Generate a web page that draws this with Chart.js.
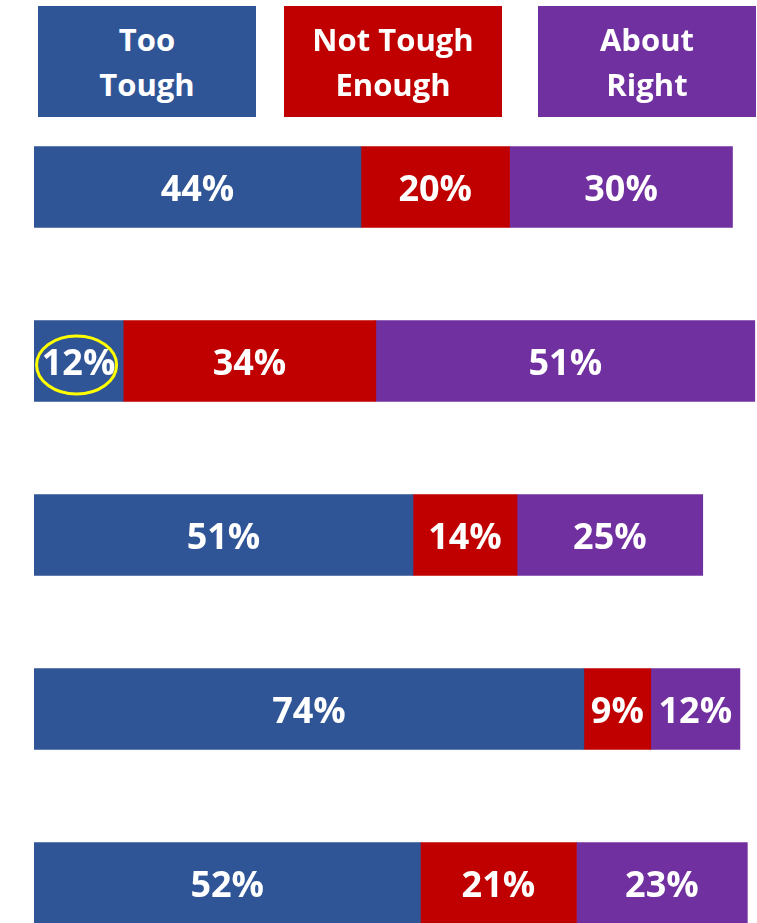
<!DOCTYPE html>
<html>
<head>
<meta charset="utf-8">
<script src="https://cdn.jsdelivr.net/npm/chart.js@4.4.1/dist/chart.umd.min.js"></script>
<style>
  html, body { margin: 0; padding: 0; background: #fff; overflow: hidden; }
  #wrap { position: relative; width: 757px; height: 923px; overflow: hidden; }
  #chart { position: absolute; left: 0; top: 0; }
  .lg { position: absolute; top: 6px; width: 218px; height: 111px; color: #fff;
        font-family: "Open Sans", sans-serif; font-weight: 700; font-size: 31px;
        line-height: 45px; text-align: center; display: flex; align-items: center; justify-content: center; white-space: pre-line; }
</style>
</head>
<body>
<div id="wrap">
  <canvas id="chart" width="757" height="970"></canvas>
</div>
<script>
const categories = ["Row 1", "Row 2", "Row 3", "Row 4", "Row 5"];
const seriesNames = ["Too\nTough", "Not Tough\nEnough", "About\nRight"];
const tooTough = [44, 12, 51, 74, 52];
const notToughEnough = [20, 34, 14, 9, 21];
const aboutRight = [30, 51, 25, 12, 23];
const colors = ["#2F5597", "#C00000", "#7030A0"];
const legendLeft = [38, 284, 538];

// HTML legend boxes
const wrap = document.getElementById('wrap');
seriesNames.forEach((n, i) => {
  const d = document.createElement('div');
  d.className = 'lg';
  d.style.left = legendLeft[i] + 'px';
  d.style.background = colors[i];
  d.textContent = n;
  wrap.appendChild(d);
});

const labelPlugin = {
  id: 'segLabels',
  afterDatasetsDraw(chart) {
    const ctx = chart.ctx;
    ctx.save();
    ctx.fillStyle = '#fff';
    ctx.font = '700 36px "Open Sans", sans-serif';
    ctx.textAlign = 'center';
    ctx.textBaseline = 'middle';
    chart.data.datasets.forEach((ds, di) => {
      const meta = chart.getDatasetMeta(di);
      meta.data.forEach((bar, i) => {
        const cx = (bar.x + bar.base) / 2;
        ctx.fillText(ds.data[i] + '%', cx, bar.y + 4);
      });
    });
    // yellow highlight ellipse around second row's first segment
    const b = chart.getDatasetMeta(0).data[1];
    const ecx = (b.x + b.base) / 2 - 2;
    ctx.strokeStyle = '#FFFF00';
    ctx.lineWidth = 3;
    ctx.beginPath();
    ctx.ellipse(ecx, b.y + 4, 40, 29, 0, 0, Math.PI * 2);
    ctx.stroke();
    ctx.restore();
  }
};

new Chart(document.getElementById('chart'), {
  type: 'bar',
  data: {
    labels: categories,
    datasets: [
      { label: seriesNames[0], data: tooTough, backgroundColor: colors[0] },
      { label: seriesNames[1], data: notToughEnough, backgroundColor: colors[1] },
      { label: seriesNames[2], data: aboutRight, backgroundColor: colors[2] }
    ]
  },
  options: {
    indexAxis: 'y',
    responsive: false,
    animation: false,
    layout: { padding: { left: 34, right: 0, top: 100, bottom: 0 } },
    datasets: { bar: { barThickness: 81, borderWidth: 0 } },
    scales: {
      x: { stacked: true, display: false, min: 0, max: 97.3 },
      y: { stacked: true, display: false }
    },
    plugins: { legend: { display: false }, tooltip: { enabled: false } }
  },
  plugins: [labelPlugin]
});
</script>
</body>
</html>
